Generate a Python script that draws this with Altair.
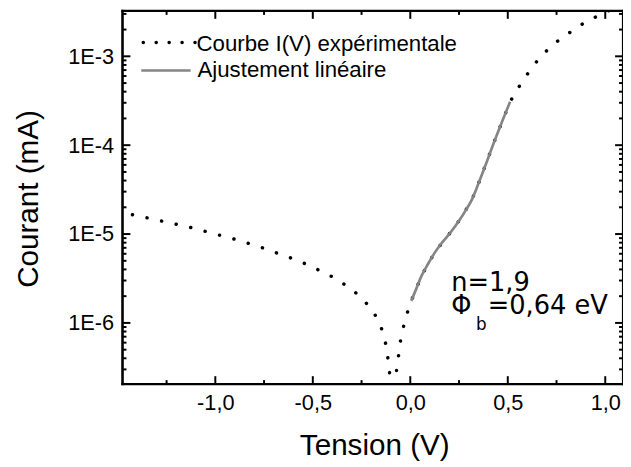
import altair as alt
import pandas as pd

# Experimental I(V) curve (V in volts, I in mA, absolute value)
exp_v = [-1.50, -1.471, -1.395, -1.319, -1.243, -1.164, -1.088, -1.010, -0.934, -0.858,
         -0.781, -0.705, -0.629, -0.551, -0.475, -0.396, -0.320, -0.247, -0.185, -0.148,
         -0.126, -0.114, -0.105, -0.090, -0.070, -0.058, -0.048, -0.029, -0.006, 0.005,
         0.030, 0.057, 0.090, 0.124, 0.165, 0.209, 0.250, 0.285, 0.318, 0.350,
         0.390, 0.428, 0.470, 0.512, 0.543, 0.596, 0.656, 0.728, 0.808, 0.880,
         0.959, 1.035, 1.100]
exp_i = [1.78e-5, 1.73e-5, 1.60e-5, 1.47e-5, 1.35e-5, 1.24e-5, 1.13e-5, 1.01e-5, 9.2e-6, 8.2e-6,
         7.3e-6, 6.35e-6, 5.55e-6, 4.76e-6, 3.98e-6, 3.27e-6, 2.56e-6, 1.91e-6, 1.29e-6, 8.7e-7,
         5.8e-7, 3.9e-7, 2.6e-7, 5.0e-8, 3.1e-7, 4.6e-7, 6.9e-7, 1.02e-6, 1.52e-6, 1.77e-6,
         2.4e-6, 3.36e-6, 4.57e-6, 6.1e-6, 8.1e-6, 1.06e-5, 1.41e-5, 1.86e-5, 2.49e-5, 3.72e-5,
         6.3e-5, 1.06e-4, 1.82e-4, 3.08e-4, 4.06e-4, 6.1e-4, 9.2e-4, 1.34e-3, 1.79e-3, 2.29e-3,
         2.83e-3, 3.41e-3, 3.9e-3]

# Linear fit segment
fit_v = [0.005, 0.030, 0.057, 0.090, 0.124, 0.165, 0.209, 0.250, 0.285, 0.318,
         0.350, 0.390, 0.428, 0.470, 0.512]
fit_i = [1.77e-6, 2.4e-6, 3.36e-6, 4.57e-6, 6.1e-6, 8.1e-6, 1.06e-5, 1.41e-5, 1.86e-5, 2.49e-5,
         3.72e-5, 6.3e-5, 1.06e-4, 1.82e-4, 3.08e-4]

# Tick values
x_major = [-1.0, -0.5, 0.0, 0.5, 1.0]
x_minor = [-1.25, -0.75, -0.25, 0.25, 0.75]
y_major = [1e-6, 1e-5, 1e-4, 1e-3]
y_minor = [3e-7, 4e-7, 5e-7, 6e-7, 7e-7, 8e-7, 9e-7,
           2e-6, 3e-6, 4e-6, 5e-6, 6e-6, 7e-6, 8e-6, 9e-6,
           2e-5, 3e-5, 4e-5, 5e-5, 6e-5, 7e-5, 8e-5, 9e-5,
           2e-4, 3e-4, 4e-4, 5e-4, 6e-4, 7e-4, 8e-4, 9e-4,
           2e-3, 3e-3]

legend_labels = ["Courbe I(V) expérimentale", "Ajustement linéaire"]

W, H = 507, 378
FONT = "Liberation Sans"

xs = alt.Scale(domain=[-1.476, 1.091], nice=False, zero=False)
ys = alt.Scale(type="log", domain=[2.05e-7, 3.24e-3], nice=False)

exp_df = pd.DataFrame({"V": exp_v, "I": exp_i})
fit_df = pd.DataFrame({"V": fit_v, "I": fit_i})

x_axis = alt.Axis(
    values=x_major, domain=False, ticks=False, grid=False, labelFlush=False,
    labelOverlap=False, labelFont=FONT, labelFontSize=22, labelColor="black",
    labelPadding=9,
    labelExpr="(datum.value < 0 ? '-' : '') + replace(format(abs(datum.value), '.1f'), '.', ',')",
    title="Tension (V)", titleFont=FONT, titleFontSize=30, titleFontWeight="normal",
    titleColor="black", titleX=255, titleY=71, titleAlign="center",
    titleBaseline="alphabetic",
)
y_axis = alt.Axis(
    values=y_major, domain=False, ticks=False, grid=False, labelFlush=False,
    labelOverlap=False, labelFont=FONT, labelFontSize=22, labelColor="black",
    labelPadding=9,
    labelExpr="'1E' + round(log(datum.value) / LN10)",
    title="Courant (mA)", titleFont=FONT, titleFontSize=30, titleFontWeight="normal",
    titleColor="black", titleX=-86.5, titleY=190, titleAlign="center",
    titleBaseline="alphabetic", titleAngle=270,
)

exp_line = alt.Chart(exp_df).mark_line(
    color="black", strokeWidth=3.5, strokeDash=[0.1, 15], strokeCap="round", clip=True
).encode(
    x=alt.X("V:Q", scale=xs, axis=x_axis),
    y=alt.Y("I:Q", scale=ys, axis=y_axis),
)

fit_line = alt.Chart(fit_df).mark_line(
    color="#858585", strokeWidth=2.7, clip=True, interpolate="monotone"
).encode(
    x=alt.X("V:Q", scale=xs),
    y=alt.Y("I:Q", scale=ys),
)

def xticks(vals, length):
    df = pd.DataFrame({"t": vals})
    base = alt.Chart(df).mark_rule(color="black", strokeWidth=2)
    bottom = base.encode(x=alt.X("t:Q", scale=xs), y=alt.value(H), y2=alt.value(H - length))
    top = base.encode(x=alt.X("t:Q", scale=xs), y=alt.value(0), y2=alt.value(length))
    return [bottom, top]

def yticks(vals, length):
    df = pd.DataFrame({"t": vals})
    base = alt.Chart(df).mark_rule(color="black", strokeWidth=2)
    left = base.encode(y=alt.Y("t:Q", scale=ys), x=alt.value(0), x2=alt.value(length))
    right = base.encode(y=alt.Y("t:Q", scale=ys), x=alt.value(W), x2=alt.value(W - length))
    return [left, right]

ticks = xticks(x_major, 8) + xticks(x_minor, 4) + yticks(y_major, 8) + yticks(y_minor, 4)

one = pd.DataFrame({"a": [0]})

# plot frame
frame_rule = alt.Chart(one).mark_rule(color="black", strokeWidth=2.2, strokeCap="square")
frame = [
    frame_rule.encode(x=alt.value(0), x2=alt.value(W), y=alt.value(H)),
    frame_rule.encode(x=alt.value(0), x2=alt.value(W), y=alt.value(0)),
    frame_rule.encode(x=alt.value(0), y=alt.value(0), y2=alt.value(H)),
    frame_rule.encode(x=alt.value(W), y=alt.value(0), y2=alt.value(H)),
]

leg_dot = alt.Chart(one).mark_rule(
    color="black", strokeWidth=3.5, strokeDash=[0.1, 13], strokeCap="round"
).encode(x=alt.value(21), x2=alt.value(74), y=alt.value(32))
leg_fit = alt.Chart(one).mark_rule(color="#858585", strokeWidth=2.7).encode(
    x=alt.value(19), x2=alt.value(69), y=alt.value(60.3)
)
leg_t1 = alt.Chart(one).mark_text(
    align="left", baseline="alphabetic", font=FONT, fontSize=22.5, color="black"
).encode(x=alt.value(75), y=alt.value(40.5), text=alt.value(legend_labels[0]))
leg_t2 = alt.Chart(one).mark_text(
    align="left", baseline="alphabetic", font=FONT, fontSize=22.5, color="black"
).encode(x=alt.value(76), y=alt.value(67), text=alt.value(legend_labels[1]))

ANN = "DejaVu Sans"
ann1 = alt.Chart(one).mark_text(
    align="left", baseline="alphabetic", font=ANN, fontSize=26, color="black"
).encode(x=alt.value(333), y=alt.value(284), text=alt.value("n=1,9"))
ann_phi = alt.Chart(one).mark_text(
    align="left", baseline="alphabetic", font=ANN, fontSize=26, color="black"
).encode(x=alt.value(333), y=alt.value(307), text=alt.value("Φ"))
ann_b = alt.Chart(one).mark_text(
    align="left", baseline="alphabetic", font=ANN, fontSize=17, color="black"
).encode(x=alt.value(358), y=alt.value(323.5), text=alt.value("b"))
ann_rest = alt.Chart(one).mark_text(
    align="left", baseline="alphabetic", font=ANN, fontSize=26, color="black"
).encode(x=alt.value(370), y=alt.value(307), text=alt.value("=0,64 eV"))

chart = alt.layer(
    exp_line, fit_line, *ticks, *frame, leg_dot, leg_fit, leg_t1, leg_t2,
    ann1, ann_phi, ann_b, ann_rest
).properties(
    width=W, height=H,
    autosize=alt.AutoSizeParams(type="none"),
    padding={"left": 116, "top": 0, "right": 0, "bottom": 80},
    background="white",
).configure_view(
    stroke="black", strokeWidth=2
)

chart.save("out.html", embed_options={"renderer": "svg", "actions": False})
